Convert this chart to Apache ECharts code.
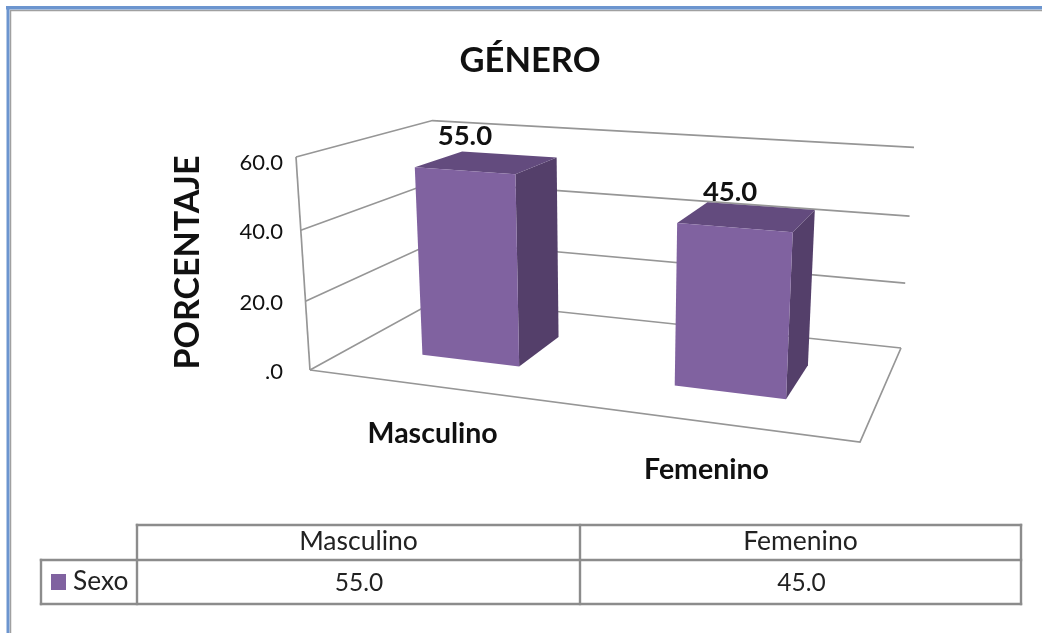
<!DOCTYPE html>
<html>
<head>
<meta charset="utf-8">
<title>Género</title>
<script src="https://cdn.jsdelivr.net/npm/echarts@6/dist/echarts.min.js"></script>
<style>
  html, body { margin: 0; padding: 0; background: #fff; }
  #chart { width: 1042px; height: 633px; }
</style>
</head>
<body>
<div id="chart"></div>
<script>
// Survey values
var categories = ['Masculino', 'Femenino'];
var seriesName = 'Sexo';
var sexo = [55.0, 45.0];
var yTicks = [0, 20, 40, 60];
var yTickLabels = ['.0', '20.0', '40.0', '60.0'];
var chartTitle = 'GÉNERO';
var yAxisName = 'PORCENTAJE';

// Perspective camera for the 3D box: u runs along the categories, v up the
// value axis, w into the depth of the floor; all three lie in 0..1.
var CAM = {
  a: 430.5, b: 218.03, p: -27.33, c: 310,
  d: 10.58, e: -10.36, q: -220.07, f: 370,
  g: -0.13896, h: 0.20281, r: -0.04503
};
function project(u, v, w) {
  var k = CAM.g * u + CAM.h * w + CAM.r * v + 1;
  return [
    (CAM.a * u + CAM.b * w + CAM.p * v + CAM.c) / k,
    (CAM.d * u + CAM.e * w + CAM.q * v + CAM.f) / k
  ];
}

var FONT = 'Lato, Carlito, sans-serif';
var COLORS = { front: '#8062a0', top: '#634b7e', side: '#543f6a', grid: '#969696', ink: '#111111' };
var BAR_RATIO = 0.4;            // bar width as a share of the category band
var DEPTH = [0.295, 0.675];     // bar extent along w
var VALUE_LABEL_SHIFT = [[0.5, -34], [-4, -35]]; // nudges from each bar's top front edge

// The flat cartesian grid supplies the scales; its pixels are normalised to
// u and v before they go through the camera.
function toUV(coordSys, pt) {
  return [(pt[0] - coordSys.x) / coordSys.width, (coordSys.y + coordSys.height - pt[1]) / coordSys.height];
}
function polyline(points) {
  return { type: 'polyline', shape: { points: points }, style: { fill: null, stroke: COLORS.grid, lineWidth: 1.7 } };
}

function renderWall(params, api) {
  var value = api.value(1);
  var uv = toUV(params.coordSys, api.coord([0, value]));
  var v = uv[1];
  var front = project(0, v, 0);
  var children = [
    polyline([front, project(0, v, 1), project(1, v, 1)]),
    {
      type: 'text',
      style: {
        text: yTickLabels[params.dataIndex],
        // Labels keep a constant right edge, just left of the slanted wall edge.
        x: 283,
        y: front[1] + 2 + (value === 60 ? 3.5 : 0),
        align: 'right', verticalAlign: 'middle',
        font: '22px ' + FONT, fill: COLORS.ink
      }
    }
  ];
  if (value === 0) {
    // The floor's front and right edges and the wall's front edge.
    children.push(polyline([project(0, 0, 0), project(1, 0, 0), project(1, 0, 1)]));
    children.push(polyline([project(0, 0, 0), project(0, 1, 0)]));
  }
  return { type: 'group', children: children };
}

function renderBar(params, api) {
  var idx = api.value(0);
  var cs = params.coordSys;
  var band = api.size([1, 0])[0] / cs.width;
  var uC = toUV(cs, api.coord([idx, 0]))[0];
  var vTop = toUV(cs, api.coord([idx, api.value(1)]))[1];
  var half = band * BAR_RATIO / 2;
  var u0 = uC - half, u1 = uC + half, w0 = DEPTH[0], w1 = DEPTH[1];
  var faceFront = [project(u0, 0, w0), project(u1, 0, w0), project(u1, vTop, w0), project(u0, vTop, w0)];
  var faceTop = [project(u0, vTop, w0), project(u1, vTop, w0), project(u1, vTop, w1), project(u0, vTop, w1)];
  var faceSide = [project(u1, 0, w0), project(u1, 0, w1), project(u1, vTop, w1), project(u1, vTop, w0)];
  var labelAt = project(uC, vTop, w0);
  var axisAt = project(uC, 0, 0);
  function face(points, fill) {
    return { type: 'polygon', shape: { points: points }, style: { fill: fill } };
  }
  return {
    type: 'group',
    children: [
      // Value label goes first so the bar's top face sits over it.
      {
        type: 'text',
        style: {
          text: api.value(1).toFixed(1),
          x: labelAt[0] + VALUE_LABEL_SHIFT[idx][0], y: labelAt[1] + VALUE_LABEL_SHIFT[idx][1],
          align: 'center', verticalAlign: 'middle',
          font: 'bold 27.5px ' + FONT, fill: COLORS.ink
        }
      },
      face(faceSide, COLORS.side),
      face(faceTop, COLORS.top),
      face(faceFront, COLORS.front),
      {
        type: 'text',
        style: {
          text: categories[idx],
          x: axisAt[0], y: axisAt[1] + 47.5,
          align: 'center', verticalAlign: 'middle',
          font: 'bold 28.5px ' + FONT, fill: COLORS.ink
        }
      }
    ]
  };
}

// Data table under the plot
var TABLE = { left: 41, stub: 137, mid: 580, right: 1021, top: 525, row: 560, bottom: 604 };
function tableLine(x1, y1, x2, y2) {
  return { type: 'line', shape: { x1: x1, y1: y1, x2: x2, y2: y2 }, style: { stroke: '#8c8c8c', lineWidth: 2.4, lineCap: 'square' } };
}
function tableText(text, x, y, size, align) {
  return { type: 'text', style: { text: text, x: x, y: y, align: align || 'center', verticalAlign: 'middle', font: size + 'px ' + FONT, fill: '#222222' } };
}
var t = TABLE;
var col1 = (t.stub + t.mid) / 2, col2 = (t.mid + t.right) / 2;
var headY = 541, rowY = 583;
var graphicElements = [
  // Page frame
  { type: 'line', shape: { x1: 10, y1: 10.5, x2: 1042, y2: 10.5 }, style: { stroke: '#a0a0a0', lineWidth: 1.5 } },
  { type: 'line', shape: { x1: 10.5, y1: 10, x2: 10.5, y2: 633 }, style: { stroke: '#a0a0a0', lineWidth: 1.5 } },
  { type: 'line', shape: { x1: 6, y1: 7.7, x2: 1042, y2: 7.7 }, style: { stroke: '#6c95cf', lineWidth: 3.4 } },
  { type: 'line', shape: { x1: 8, y1: 6, x2: 8, y2: 633 }, style: { stroke: '#6c95cf', lineWidth: 3 } },
  // Axis name
  {
    type: 'text', x: 188, y: 262.5, rotation: Math.PI / 2,
    style: { text: yAxisName, align: 'center', verticalAlign: 'middle', font: 'bold 34px ' + FONT, fill: COLORS.ink }
  },
  // Table rules
  tableLine(t.stub, t.top, t.right, t.top),
  tableLine(t.left, t.row, t.right, t.row),
  tableLine(t.left, t.bottom, t.right, t.bottom),
  tableLine(t.left, t.row, t.left, t.bottom),
  tableLine(t.stub, t.top, t.stub, t.bottom),
  tableLine(t.mid, t.top, t.mid, t.bottom),
  tableLine(t.right, t.top, t.right, t.bottom),
  // Table contents
  tableText(categories[0], col1, headY, 26.5),
  tableText(categories[1], col2, headY, 26.5),
  { type: 'rect', shape: { x: 51, y: 574, width: 15, height: 16 }, style: { fill: COLORS.front } },
  tableText(seriesName, 73, rowY - 1, 26.3, 'left'),
  tableText(sexo[0].toFixed(1), col1 + 0.5, rowY, 24.5),
  tableText(sexo[1].toFixed(1), col2 + 1, rowY, 24.5)
];

var chart = echarts.init(document.getElementById('chart'), null, { renderer: 'canvas' });
chart.setOption({
  animation: false,
  backgroundColor: '#ffffff',
  title: {
    text: chartTitle, left: 525, top: 56, textAlign: 'center', textVerticalAlign: 'middle',
    textStyle: { fontFamily: FONT, fontWeight: 'bold', fontSize: 34.5, color: COLORS.ink }
  },
  grid: { left: 100, top: 100, width: 800, height: 400 },
  xAxis: { type: 'category', data: categories, show: false },
  yAxis: { type: 'value', min: 0, max: 60, interval: 20, show: false },
  graphic: { elements: graphicElements },
  series: [
    {
      name: 'Paredes', type: 'custom', renderItem: renderWall, silent: true, z: 1,
      data: yTicks.map(function (v) { return [0, v]; })
    },
    {
      name: seriesName, type: 'custom', renderItem: renderBar, silent: true, z: 2,
      data: sexo.map(function (v, i) { return [i, v]; })
    }
  ]
});
</script>
</body>
</html>
